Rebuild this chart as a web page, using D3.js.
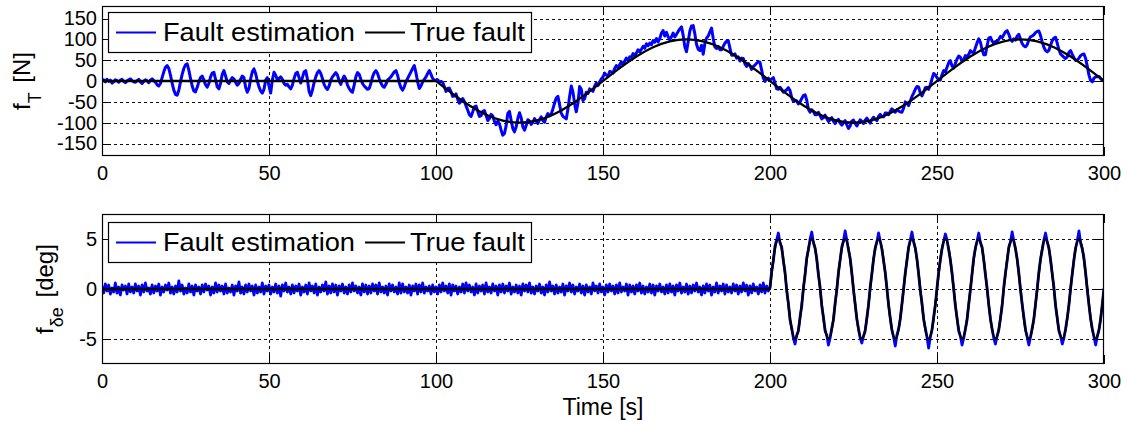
<!DOCTYPE html>
<html><head><meta charset="utf-8">
<script src="https://cdn.jsdelivr.net/npm/d3@7"></script>
<style>
body{margin:0;background:#fff}
svg{display:block}
text{font-family:"Liberation Sans",Arial,Helvetica,sans-serif;fill:#000}
</style>
</head><body>
<svg id="c" width="1127" height="422"></svg>
<script>
// ---------------- DATA ----------------
const xTicks=[0,50,100,150,200,250,300];
const topYTicks=[-150,-100,-50,0,50,100,150];
const botYTicks=[-5,0,5];
const legendLabels=["Fault estimation","True fault"];
const xLabel="Time [s]";
const estDt=0.5; // s between estimate samples (start at t=0)

// f_T estimate (N), t = 0..300 s every 0.5 s
const topEst=[
0,3,-2,4,-1,2,-5,-2,3,1,-3,2,4,-1,-4,0,3,5,1,-2,
-3,1,4,-2,-6,-1,3,0,-4,2,5,1,-3,-9,-12,-6,8,22,33,37,
30,14,-5,-22,-32,-34,-22,-2,16,30,39,41,26,6,-12,-24,-26,-15,-2,8,
12,2,-9,-15,-6,10,19,21,4,-14,-19,-5,16,25,12,-2,-6,2,8,5,
-3,-10,-6,4,12,8,-15,-27,-18,5,22,29,18,0,-14,-24,-29,-20,2,8,
-12,-29,2,21,14,3,6,10,4,-6,-10,-8,-14,-19,-10,6,18,21,8,-5,
8,22,25,4,-25,-35,-22,-4,10,20,25,18,6,-8,-16,-20,-12,2,10,15,
20,14,0,-8,4,12,5,-10,-18,-24,-27,-10,10,20,16,4,-6,-12,-16,-20,
-18,-6,10,20,25,18,6,-5,-12,-15,-8,2,6,10,16,22,25,14,-4,-16,
-22,-14,-2,6,14,22,30,37,20,-2,-18,-12,-2,4,10,18,25,16,6,2,
2,3,-2,-1,-3,-14,-25,-18,-17,-26,-37,-36,-31,-44,-53,-49,-42,-49,-60,-70,
-81,-85,-74,-62,-60,-73,-85,-83,-73,-71,-83,-95,-90,-80,-84,-97,-105,-96,-103,-118,
-130,-126,-107,-78,-73,-94,-114,-122,-110,-90,-76,-88,-110,-118,-107,-93,-96,-104,-99,-90,
-97,-102,-93,-86,-95,-99,-86,-78,-84,-79,-67,-53,-41,-37,-57,-77,-85,-88,-91,-67,
-37,-12,-26,-55,-74,-53,-13,-20,-47,-42,-27,-30,-19,-22,-25,-12,-5,-11,-2,5,
10,19,14,11,23,22,19,30,37,32,39,46,39,48,55,49,58,57,66,60,
67,75,70,76,83,79,89,85,91,87,97,93,102,94,102,115,121,108,117,106,
99,106,115,106,112,119,125,130,110,82,70,94,120,132,133,113,88,76,73,86,
64,90,103,108,118,127,102,82,78,83,75,75,83,91,95,97,79,62,62,65,
55,58,48,55,54,41,35,42,37,28,35,38,43,46,45,26,7,-1,4,7,
2,5,8,-5,-19,-20,-15,-20,-27,-24,-21,-16,-23,-40,-49,-47,-48,-55,-50,-42,
-35,-33,-46,-68,-75,-69,-73,-81,-81,-75,-83,-91,-88,-82,-90,-97,-93,-88,-97,-102,
-95,-92,-101,-106,-100,-95,-105,-114,-108,-96,-94,-102,-108,-100,-93,-97,-102,-94,-89,-96,
-101,-92,-87,-92,-95,-85,-80,-86,-86,-77,-77,-81,-73,-67,-71,-75,-69,-72,-74,-75,
-65,-50,-54,-59,-48,-37,-29,-20,-13,-14,-29,-36,-27,-16,-15,-20,-9,5,18,15,
8,3,2,15,25,22,33,44,49,36,31,42,53,60,57,47,52,61,58,64,
73,69,68,80,92,101,93,75,63,63,85,103,105,96,90,95,95,100,107,104,
111,118,121,112,100,95,101,98,108,112,100,90,84,82,87,99,106,108,111,116,
119,120,109,94,81,73,70,74,86,97,103,105,91,75,65,61,57,54,58,69,
73,64,56,49,50,55,61,64,65,54,35,14,1,-2,7,10,10,11,6,1,
2];

// f_T true fault (N): 0 until t=100, then samples every 5 s from t=100 to 300
const topTrueStart=100, topTrueDt=5;
const topTrue=[0,-30.9,-58.8,-80.9,-95.1,-100,-95.1,-80.9,-58.8,-30.9,
0,30.9,58.8,80.9,95.1,100,95.1,80.9,58.8,30.9,
0,-30.9,-58.8,-80.9,-95.1,-100,-95.1,-80.9,-58.8,-30.9,
0,30.9,58.8,80.9,95.1,100,95.1,80.9,58.8,30.9,0];

// f_delta_e estimate (deg), t = 0..300 s every 0.5 s
const botEst=[
0.3,-0.4,0.5,-0.2,0.4,-0.5,0.1,-0.3,0.6,-0.4,0.2,-0.6,0.4,-0.1,0.3,-0.5,0.5,-0.3,0.2,-0.4,
0.5,-0.2,0.3,-0.6,0.4,-0.3,0.6,-0.2,0.1,-0.5,0.4,-0.4,0.3,-0.2,0.5,-0.6,0.2,-0.3,0.4,-0.1,
0.6,-0.4,0.2,-0.5,0.3,-0.3,0.8,-0.2,0.4,-0.5,0.1,-0.4,0.5,-0.3,0.3,-0.6,0.4,-0.2,0.2,-0.5,
0.4,-0.3,0.5,-0.1,0.3,-0.6,0.2,-0.4,0.6,-0.3,0.4,-0.2,0.3,-0.5,0.5,-0.4,0.1,-0.3,0.4,-0.6,
0.3,-0.2,0.7,-0.4,0.2,-0.5,0.4,-0.3,0.5,-0.2,0.3,-0.6,0.4,-0.4,0.2,-0.3,0.6,-0.5,0.3,-0.2,
0.4,-0.5,0.2,-0.3,0.5,-0.4,0.3,-0.7,0.4,-0.2,0.6,-0.3,0.2,-0.5,0.4,-0.4,0.3,-0.2,0.5,-0.6,
0.2,-0.3,0.4,-0.5,0.6,-0.2,0.3,-0.4,0.5,-0.6,0.2,-0.3,0.4,-0.2,0.7,-0.5,0.3,-0.4,0.5,-0.3,
0.4,-0.6,0.3,-0.2,0.5,-0.4,0.2,-0.5,0.4,-0.3,0.6,-0.2,0.3,-0.4,0.2,-0.6,0.5,-0.3,0.4,-0.5,
0.3,-0.4,0.5,-0.2,0.4,-0.5,0.6,-0.3,0.2,-0.4,0.3,-0.6,0.5,-0.2,0.4,-0.3,0.2,-0.5,0.6,-0.4,
0.5,-0.3,0.2,-0.4,0.4,-0.6,0.3,-0.2,0.5,-0.5,0.4,-0.3,0.6,-0.4,0.2,-0.2,0.3,-0.5,0.4,-0.3,
0.2,-0.5,0.4,-0.3,0.6,-0.2,0.3,-0.4,0.5,-0.6,0.4,-0.2,0.3,-0.5,0.2,-0.3,0.5,-0.4,0.6,-0.2,
0.4,-0.3,0.2,-0.6,0.5,-0.4,0.3,-0.2,0.4,-0.5,0.6,-0.3,0.2,-0.4,0.5,-0.2,0.3,-0.6,0.4,-0.3,
0.5,-0.4,0.3,-0.2,0.6,-0.5,0.2,-0.3,0.4,-0.4,0.3,-0.6,0.5,-0.2,0.4,-0.3,0.6,-0.4,0.2,-0.5,
0.3,-0.2,0.5,-0.4,0.2,-0.6,0.4,-0.3,0.7,-0.2,0.3,-0.5,0.4,-0.4,0.2,-0.3,0.5,-0.6,0.3,-0.2,
0.6,-0.3,0.4,-0.5,0.2,-0.2,0.5,-0.4,0.3,-0.6,0.4,-0.3,0.2,-0.5,0.6,-0.2,0.3,-0.4,0.5,-0.3,
0.2,-0.6,0.4,-0.3,0.5,-0.2,0.3,-0.5,0.4,-0.4,0.6,-0.3,0.2,-0.2,0.5,-0.6,0.4,-0.3,0.3,-0.5,
0.4,-0.2,0.6,-0.4,0.3,-0.5,0.2,-0.3,0.5,-0.4,0.4,-0.6,0.3,-0.2,0.5,-0.3,0.2,-0.5,0.4,-0.4,
0.5,-0.3,0.3,-0.6,0.4,-0.2,0.6,-0.4,0.2,-0.3,0.5,-0.5,0.3,-0.4,0.4,-0.2,0.6,-0.3,0.2,-0.6,
0.3,-0.4,0.5,-0.2,0.4,-0.6,0.2,-0.3,0.6,-0.4,0.3,-0.2,0.5,-0.5,0.4,-0.3,0.2,-0.4,0.5,-0.2,
0.4,-0.5,0.3,-0.3,0.6,-0.2,0.4,-0.6,0.3,-0.4,0.5,-0.2,0.2,-0.5,0.4,-0.3,0.6,-0.4,0.3,-0.2,
0.2,1.8,2.8,4.3,4.9,5.6,4.6,4.2,2.8,1.7,-0.2,-1.4,-3.1,-3.9,-4.9,-5.5,-4.6,-4.2,-2.8,-1.7,
0.1,1.4,3.1,3.9,5.0,5.7,4.6,4.1,3.0,1.4,0.2,-1.7,-2.8,-4.2,-4.6,-5.6,-4.9,-3.9,-3.1,-1.4,
-0.1,1.7,2.9,4.2,4.8,5.8,4.9,3.9,3.1,1.6,-0.1,-1.5,-3.0,-4.0,-4.9,-5.4,-4.7,-4.2,-2.9,-1.6,
0.2,1.5,3.0,4.1,4.7,5.6,4.8,4.0,2.8,1.7,0.1,-1.6,-2.9,-4.1,-4.8,-5.7,-4.6,-4.0,-3.0,-1.5,
0.0,1.6,2.8,4.2,4.9,5.7,4.7,4.1,3.0,1.5,-0.2,-1.4,-3.0,-3.9,-4.8,-5.9,-4.8,-4.1,-2.8,-1.6,
0.1,1.7,2.9,4.0,4.8,5.5,4.9,3.9,2.9,1.6,0.0,-1.7,-2.9,-4.2,-4.7,-5.6,-4.9,-4.0,-3.1,-1.5,
-0.1,1.5,3.1,4.1,4.8,5.6,4.6,4.2,2.9,1.4,0.1,-1.6,-3.0,-4.0,-4.9,-5.5,-4.7,-4.1,-2.9,-1.7,
0.2,1.6,2.8,4.2,4.7,5.7,4.8,4.0,3.0,1.6,-0.1,-1.5,-2.8,-4.1,-4.8,-5.6,-4.8,-3.9,-3.0,-1.5,
0.0,1.7,3.0,3.9,4.9,5.6,4.7,4.1,2.9,1.5,0.2,-1.7,-2.9,-4.2,-4.7,-5.5,-4.9,-4.0,-2.9,-1.6,
0.1,1.5,2.9,4.1,4.8,5.8,4.6,4.0,3.1,1.6,-0.1,-1.6,-3.0,-4.0,-4.8,-5.6,-4.7,-4.1,-3.0,-1.5,
0.1];

// f_delta_e true fault (deg): 0 until t=200, then samples every 1.25 s from t=200 to 300
const botTrueStart=200, botTrueDt=1.25;
const botTrue=[
0,3.54,5,3.54,0,-3.54,-5,-3.54,
0,3.54,5,3.54,0,-3.54,-5,-3.54,
0,3.54,5,3.54,0,-3.54,-5,-3.54,
0,3.54,5,3.54,0,-3.54,-5,-3.54,
0,3.54,5,3.54,0,-3.54,-5,-3.54,
0,3.54,5,3.54,0,-3.54,-5,-3.54,
0,3.54,5,3.54,0,-3.54,-5,-3.54,
0,3.54,5,3.54,0,-3.54,-5,-3.54,
0,3.54,5,3.54,0,-3.54,-5,-3.54,
0,3.54,5,3.54,0,-3.54,-5,-3.54,
0];

// ---------------- DRAWING ----------------
const svg=d3.select("#c");
const L=102,R=1104;
const x=d3.scaleLinear().domain([0,300]).range([L,R]);
const BLUE="#0000ff";

const panels=[
 {top:6,bottom:156,dom:[-180,180],ticks:topYTicks,est:topEst,tStart:topTrueStart,tDt:topTrueDt,tru:topTrue,
  lab:["f","T"," [N]"],labX:30,subShift:11,legTop:12,estW:3},
 {top:214,bottom:364,dom:[-7.5,7.5],ticks:botYTicks,est:botEst,tStart:botTrueStart,tDt:botTrueDt,tru:botTrue,
  lab:["f","\u03b4e"," [deg]"],labX:53,subShift:10,legTop:222,estW:2.8}
];

const defs=svg.append("defs");

panels.forEach((p,i)=>{
  const y=d3.scaleLinear().domain(p.dom).range([p.bottom,p.top]);
  const g=svg.append("g");
  defs.append("clipPath").attr("id","clip"+i).append("rect")
    .attr("x",L).attr("y",p.top).attr("width",R-L).attr("height",p.bottom-p.top);

  // grid
  const grid=g.append("g").attr("stroke","#111").attr("stroke-width",1).attr("stroke-dasharray","3,3");
  grid.selectAll("line.v").data(xTicks.filter(t=>t>0&&t<300)).enter().append("line")
    .attr("x1",d=>Math.round(x(d))+0.5).attr("x2",d=>Math.round(x(d))+0.5).attr("y1",p.top).attr("y2",p.bottom);
  grid.selectAll("line.h").data(p.ticks).enter().append("line")
    .attr("x1",L).attr("x2",R).attr("y1",d=>Math.round(y(d))+0.5).attr("y2",d=>Math.round(y(d))+0.5);

  // data
  const plot=g.append("g").attr("clip-path",`url(#clip${i})`);
  const estLine=d3.line().x((d,j)=>x(j*estDt)).y(d=>y(d));
  plot.append("path").datum(p.est).attr("d",estLine)
    .attr("fill","none").attr("stroke",BLUE).attr("stroke-width",p.estW).attr("stroke-linejoin","round");
  plot.append("path").datum([0,p.tStart]).attr("d",d3.line().x(d=>x(d)).y(()=>y(0)))
    .attr("fill","none").attr("stroke","#000").attr("stroke-width",2.3);
  const trueLine=d3.line().x((d,j)=>x(p.tStart+j*p.tDt)).y(d=>y(d)).curve(d3.curveNatural);
  plot.append("path").datum(p.tru).attr("d",trueLine)
    .attr("fill","none").attr("stroke","#000").attr("stroke-width",2.3).attr("stroke-linejoin","round");

  // box
  g.append("rect").attr("x",L+0.5).attr("y",p.top+0.5).attr("width",R-L-1).attr("height",p.bottom-p.top-1)
    .attr("fill","none").attr("stroke","#000").attr("stroke-width",1.2);

  // inward ticks
  const tk=g.append("g").attr("stroke","#000").attr("stroke-width",1);
  xTicks.forEach(t=>{
    const xx=Math.round(x(t))+0.5;
    tk.append("line").attr("x1",xx).attr("x2",xx).attr("y1",p.bottom).attr("y2",p.bottom-9);
    tk.append("line").attr("x1",xx).attr("x2",xx).attr("y1",p.top).attr("y2",p.top+9);
  });
  p.ticks.forEach(t=>{
    const yy=Math.round(y(t))+0.5;
    tk.append("line").attr("x1",L).attr("x2",L+9).attr("y1",yy).attr("y2",yy);
    tk.append("line").attr("x1",R).attr("x2",R-9).attr("y1",yy).attr("y2",yy);
  });

  // tick labels through d3 axes
  const xa=g.append("g").attr("transform",`translate(0,${p.bottom})`)
    .call(d3.axisBottom(x).tickValues(xTicks).tickSize(0).tickPadding(10).tickFormat(d=>String(d)));
  const ya=g.append("g").attr("transform",`translate(${L},0)`)
    .call(d3.axisLeft(y).tickValues(p.ticks).tickSize(0).tickPadding(5).tickFormat(d=>String(d)));
  [xa,ya].forEach(a=>{
    a.select(".domain").remove();
    a.selectAll("text").attr("font-size",20).attr("font-family",'"Liberation Sans",Arial,sans-serif').attr("fill","#000");
  });

  // y label
  const cy=(p.top+p.bottom)/2;
  const yl=g.append("text").attr("transform",`translate(${p.labX},${cy}) rotate(-90)`)
    .attr("text-anchor","middle").attr("font-size",24);
  yl.append("tspan").text(p.lab[0]);
  yl.append("tspan").attr("font-size",18).attr("dy",p.subShift).text(p.lab[1]);
  yl.append("tspan").attr("dy",-p.subShift).attr("dx",3).text(p.lab[2]);

  // legend
  const lg=g.append("g").attr("transform",`translate(108,${p.legTop})`);
  lg.append("rect").attr("x",0.5).attr("y",0.5).attr("width",423).attr("height",40)
    .attr("fill","#fff").attr("stroke","#000").attr("stroke-width",1.2);
  const items=[{c:BLUE,lx:8,tx:55,w:192},{c:"#000",lx:257,tx:302,w:115}];
  items.forEach((it,k)=>{
    lg.append("line").attr("x1",it.lx).attr("x2",it.lx+40).attr("y1",20.5).attr("y2",20.5)
      .attr("stroke",it.c).attr("stroke-width",k===0?1.8:2);
    lg.append("text").attr("x",it.tx).attr("y",28.5).attr("font-size",25)
      .attr("textLength",it.w).attr("lengthAdjust","spacingAndGlyphs").text(legendLabels[k]);
  });
});

// x label
svg.append("text").attr("x",(L+R)/2).attr("y",415).attr("text-anchor","middle")
  .attr("font-size",23).text(xLabel);
</script>
</body></html>
